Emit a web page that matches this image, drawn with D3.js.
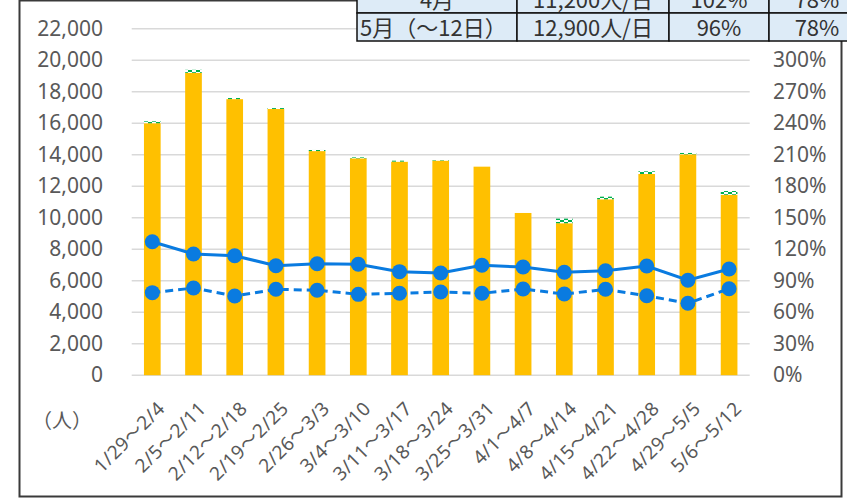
<!DOCTYPE html>
<html>
<head>
<meta charset="utf-8">
<script src="https://cdn.jsdelivr.net/npm/d3@7"></script>
<style>
  body { margin: 0; background: #fff; }
  text { font-family: "Noto Sans CJK JP", "Noto Sans", sans-serif; fill: #595959; }
</style>
</head>
<body>
<div id="chart-area"></div>
<script>
// weekly periods
var categories = ["1/29～2/4", "2/5～2/11", "2/12～2/18", "2/19～2/25", "2/26～3/3",
    "3/4～3/10", "3/11～3/17", "3/18～3/24", "3/25～3/31", "4/1～4/7",
    "4/8～4/14", "4/15～4/21", "4/22～4/28", "4/29～5/5", "5/6～5/12"];

// people per day (bar) and the small patterned part on top
var mainValues = [16000, 19200, 17530, 16900, 14230, 13770, 13560, 13620, 13240, 10300,
    9650, 11170, 12775, 14025, 11460];
var extraValues = [120, 190, 70, 60, 70, 60, 60, 30, 0, 0, 290, 165, 170, 85, 235];

// ratios in % (right axis)
var ratioSolid = [127.1, 115.4, 113.8, 104.3, 106.2, 105.6, 98.6, 97.3, 104.7, 103,
    98, 99.5, 104, 90.4, 101.1];
var ratioDashed = [78.6, 83, 75.4, 81.8, 80.9, 77, 78, 79.2, 78, 82.1,
    77.3, 81.8, 75.7, 68.5, 82.4];

var leftTicks = d3.range(0, 22001, 2000);
var rightTicks = d3.range(0, 301, 30);

// table at the top
var tableRows = [
    ["4月", "11,200人/日", "102%", "78%"],
    ["5月（～12日）", "12,900人/日", "96%", "78%"]
];

var width = 847, height = 499;
var svg = d3.select("#chart-area").append("svg")
    .attr("width", width)
    .attr("height", height);

var defs = svg.append("defs");
var pat = defs.append("pattern")
    .attr("id", "checker")
    .attr("patternUnits", "userSpaceOnUse")
    .attr("width", 8)
    .attr("height", 4);
pat.append("rect").attr("width", 8).attr("height", 4).attr("fill", "#fff");
pat.append("rect").attr("x", 0).attr("y", 0).attr("width", 4).attr("height", 2).attr("fill", "#00B050");
pat.append("rect").attr("x", 4).attr("y", 2).attr("width", 4).attr("height", 2).attr("fill", "#00B050");

// outer frame
svg.append("rect")
    .attr("x", 19.5).attr("y", 0.5)
    .attr("width", 822).attr("height", 496)
    .attr("fill", "none")
    .attr("stroke", "#3a3a3a")
    .attr("stroke-width", 2);

var x = d3.scaleBand()
    .domain(categories)
    .range([131.7, 749.7])
    .paddingInner(0.595)
    .paddingOuter(0.2975);

var y = d3.scaleLinear().domain([0, 22000]).range([375.2, 28.7]);
var y2 = d3.scaleLinear().domain([0, 330]).range([375.2, 28.7]);

// gridlines
svg.append("g")
    .selectAll("line")
    .data(leftTicks)
    .enter().append("line")
    .attr("x1", 131.7).attr("x2", 749.7)
    .attr("y1", d => y(d)).attr("y2", d => y(d))
    .attr("stroke", "#d9d9d9")
    .attr("stroke-width", 1.5);

// axes
var leftAxis = svg.append("g")
    .attr("transform", "translate(103,0)")
    .call(d3.axisLeft(y).tickValues(leftTicks).tickFormat(d3.format(",")).tickSize(0).tickPadding(0));
var rightAxis = svg.append("g")
    .attr("transform", "translate(773,0)")
    .call(d3.axisRight(y2).tickValues(rightTicks).tickFormat(d => d + "%").tickSize(0).tickPadding(0));
[leftAxis, rightAxis].forEach(g => {
    g.select(".domain").remove();
    g.selectAll("text")
        .attr("font-size", 21)
        .attr("fill", "#595959")
        .style("font-family", "'Noto Sans', sans-serif");
});

// bars
svg.append("g")
    .selectAll("rect")
    .data(categories)
    .enter().append("rect")
    .attr("x", d => x(d))
    .attr("width", x.bandwidth())
    .attr("y", (d, i) => y(mainValues[i]))
    .attr("height", (d, i) => y(0) - y(mainValues[i]))
    .attr("fill", "#FFC000");

svg.append("g")
    .selectAll("rect")
    .data(categories)
    .enter().append("rect")
    .attr("x", d => x(d))
    .attr("width", x.bandwidth())
    .attr("y", (d, i) => y(mainValues[i] + extraValues[i]))
    .attr("height", (d, i) => y(mainValues[i]) - y(mainValues[i] + extraValues[i]))
    .attr("fill", "url(#checker)");

// lines
var cx = d => x(d) + x.bandwidth() / 2;
var blue = "#0A7BE0";

function drawSeries(values, dashed) {
    var line = d3.line()
        .x((d, i) => cx(categories[i]))
        .y(d => y2(d));
    svg.append("path")
        .datum(values)
        .attr("d", line)
        .attr("fill", "none")
        .attr("stroke", blue)
        .attr("stroke-width", 3)
        .attr("stroke-dasharray", dashed ? "8,5" : null);
    svg.append("g")
        .selectAll("circle")
        .data(values)
        .enter().append("circle")
        .attr("cx", (d, i) => cx(categories[i]))
        .attr("cy", d => y2(d))
        .attr("r", 7.5)
        .attr("fill", blue);
}
drawSeries(ratioSolid, false);
drawSeries(ratioDashed, true);

// x labels
svg.append("g")
    .selectAll("text")
    .data(categories)
    .enter().append("text")
    .attr("transform", d => "translate(" + (cx(d) + 9) + ",405) rotate(-45)")
    .attr("text-anchor", "end")
    .attr("dy", "0.35em")
    .attr("font-size", 19)
    .style("font-family", "'Noto Sans', 'Noto Sans CJK JP', sans-serif")
    .style("letter-spacing", "0.4px")
    .text(d => d);

svg.append("text")
    .attr("x", 62).attr("y", 428)
    .attr("text-anchor", "middle")
    .attr("font-size", 20)
    .text("（人）");

// table
var colEdges = [357, 517, 669, 769, 865];
var rowTops = [-15, 13];
var table = svg.append("g");
tableRows.forEach((row, r) => {
    row.forEach((cell, c) => {
        table.append("rect")
            .attr("x", colEdges[c]).attr("y", rowTops[r])
            .attr("width", colEdges[c + 1] - colEdges[c]).attr("height", 28)
            .attr("fill", "#DDEBF7")
            .attr("stroke", "#111")
            .attr("stroke-width", 1.5);
        var leftAlign = (r === 1 && c === 0);
        table.append("text")
            .attr("x", leftAlign ? colEdges[c] + 3 : (colEdges[c] + colEdges[c + 1]) / 2)
            .attr("y", rowTops[r] + 23)
            .attr("text-anchor", leftAlign ? "start" : "middle")
            .attr("font-size", 22)
            .style("fill", "#333")
            .text(cell);
    });
});
</script>
</body>
</html>
